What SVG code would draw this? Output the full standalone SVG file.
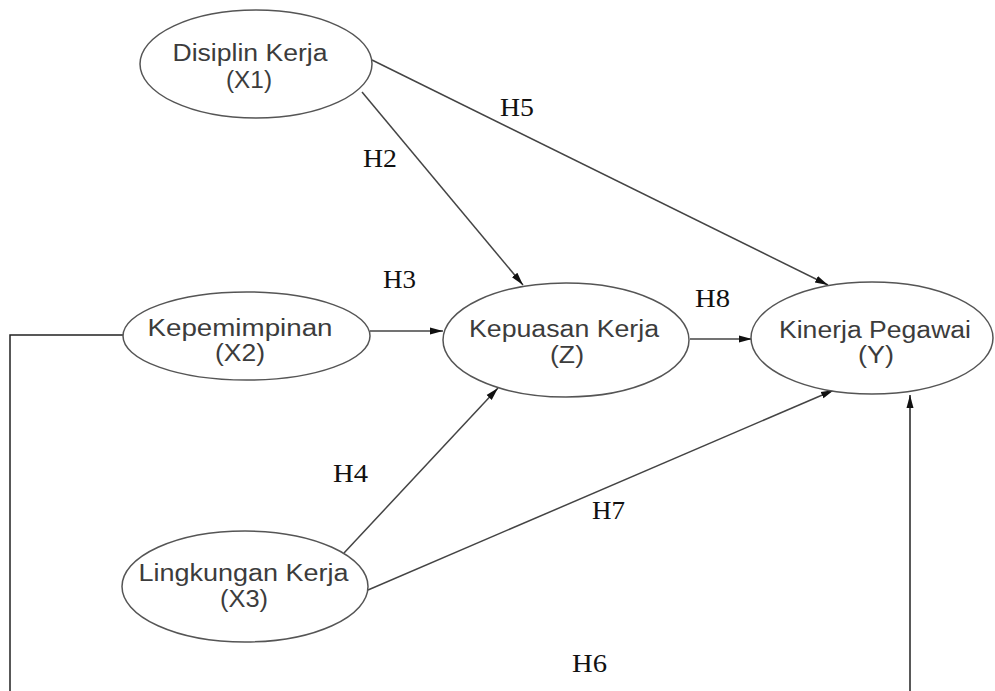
<svg xmlns="http://www.w3.org/2000/svg" width="995" height="691" viewBox="0 0 995 691">
<style>
.node ellipse{fill:#fff;stroke:#555;stroke-width:1.5}
.node text{font-family:"Liberation Sans",Arial,sans-serif;font-size:23px;fill:#3c3c3c;text-anchor:middle}
.conn line,.conn polyline{stroke:#444;stroke-width:1.5;fill:none}
.lbl{font-family:"Liberation Serif","Times New Roman",serif;font-size:25px;fill:#111}
</style>
<defs>
<marker id="ah" markerUnits="userSpaceOnUse" markerWidth="14" markerHeight="10" refX="13" refY="5" orient="auto">
<path d="M0,1.5 L13,5 L0,8.5 Z" fill="#111"/>
</marker>
</defs>
<rect width="995" height="691" fill="#fff"/>
<g id="connectors" class="conn">
<line x1="362" y1="92" x2="523" y2="285" marker-end="url(#ah)"/>
<line x1="372" y1="60" x2="828" y2="285" marker-end="url(#ah)"/>
<line x1="370" y1="331" x2="443" y2="331" marker-end="url(#ah)"/>
<line x1="690" y1="339" x2="752" y2="339" marker-end="url(#ah)"/>
<line x1="344" y1="553" x2="498" y2="388" marker-end="url(#ah)"/>
<line x1="368" y1="590" x2="834" y2="390" marker-end="url(#ah)"/>
<polyline points="123,335 10,335 10,691" style="stroke:#222"/>
<line x1="910" y1="691" x2="910" y2="395" style="stroke:#222" marker-end="url(#ah)"/>
</g>
<g id="X1" class="node">
<ellipse cx="256" cy="64" rx="116" ry="54"/>
<text x="250" y="61" textLength="155" lengthAdjust="spacingAndGlyphs">Disiplin Kerja</text>
<text x="249" y="88" textLength="46" lengthAdjust="spacingAndGlyphs">(X1)</text>
</g>
<g id="X2" class="node">
<ellipse cx="246.5" cy="336" rx="123.5" ry="44"/>
<text x="240" y="336" textLength="185" lengthAdjust="spacingAndGlyphs">Kepemimpinan</text>
<text x="240" y="361" textLength="50" lengthAdjust="spacingAndGlyphs">(X2)</text>
</g>
<g id="Z" class="node">
<ellipse cx="566" cy="340" rx="123" ry="57"/>
<text x="564" y="337" textLength="190" lengthAdjust="spacingAndGlyphs">Kepuasan Kerja</text>
<text x="567" y="363" textLength="34" lengthAdjust="spacingAndGlyphs">(Z)</text>
</g>
<g id="Y" class="node">
<ellipse cx="872" cy="338" rx="121" ry="56"/>
<text x="875" y="338" textLength="192" lengthAdjust="spacingAndGlyphs">Kinerja Pegawai</text>
<text x="876" y="363" textLength="36" lengthAdjust="spacingAndGlyphs">(Y)</text>
</g>
<g id="X3" class="node">
<ellipse cx="245" cy="586.5" rx="123" ry="55.5"/>
<text x="243.5" y="581" textLength="210" lengthAdjust="spacingAndGlyphs">Lingkungan Kerja</text>
<text x="244" y="607" textLength="48" lengthAdjust="spacingAndGlyphs">(X3)</text>
</g>
<g id="labels">
<text class="lbl" x="500" y="116" textLength="34" lengthAdjust="spacingAndGlyphs">H5</text>
<text class="lbl" x="363" y="167" textLength="34" lengthAdjust="spacingAndGlyphs">H2</text>
<text class="lbl" x="383" y="288" textLength="33" lengthAdjust="spacingAndGlyphs">H3</text>
<text class="lbl" x="695" y="307" textLength="35" lengthAdjust="spacingAndGlyphs">H8</text>
<text class="lbl" x="333" y="482" textLength="35" lengthAdjust="spacingAndGlyphs">H4</text>
<text class="lbl" x="592" y="519" textLength="33" lengthAdjust="spacingAndGlyphs">H7</text>
<text class="lbl" x="572" y="672" textLength="35" lengthAdjust="spacingAndGlyphs">H6</text>
</g>
</svg>
